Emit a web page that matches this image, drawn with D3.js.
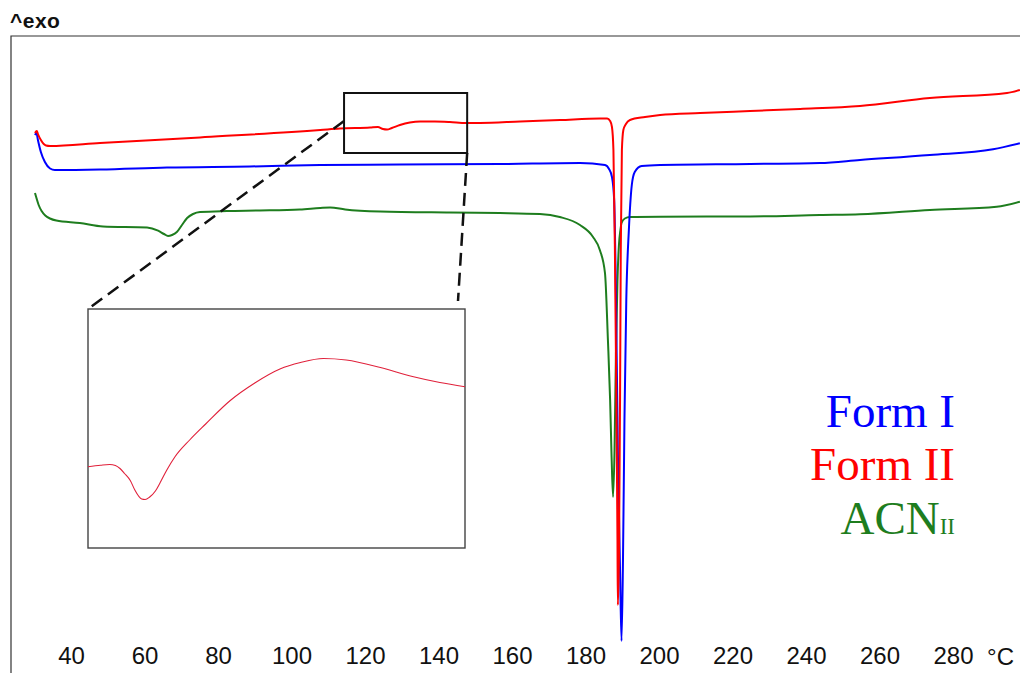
<!DOCTYPE html>
<html><head><meta charset="utf-8">
<script src="https://cdn.jsdelivr.net/npm/d3@7"></script>
<style>body{margin:0;background:#fff;}svg{display:block;}</style>
</head><body>
<svg id="c" width="1020" height="673"></svg>
<script>
// ---- data (temperature °C, heat-flow arbitrary units) ----
const xTicks = [40, 60, 80, 100, 120, 140, 160, 180, 200, 220, 240, 260, 280];
const xUnit = "°C";
const yLabel = "^exo";
const seriesNames = ["Form I", "Form II", "ACN"];
const seriesColors = ["#0000ff", "#ff0000", "#1e7d1e"];

const formI_T = [30.2,30.6,31.0,31.8,32.9,34.3,35.6,47.9,66.1,88.7,107.8,129.5,156.7,178.5,185.3,186.4,187.2,187.8,188.3,188.8,189.4,189.8,190.2,190.6,191.1,191.8,192.6,193.4,195.3,200.3,224.8,243.8,254.7,273.7,290.9,298.2];
const formI_V = [-9.9,-9.7,-10.4,-11.6,-12.6,-13.25,-13.4,-13.35,-13.15,-13.05,-12.9,-12.85,-12.8,-12.7,-12.9,-13.3,-14.1,-16.4,-26.4,-41.4,-53.4,-60.5,-52.4,-38.4,-26.4,-19.4,-14.9,-13.6,-13.0,-12.9,-12.8,-12.7,-12.4,-11.9,-11.33,-10.73];

const formII_T = [30.2,30.7,31.0,31.8,33.2,34.3,47.9,75.1,107.8,113.2,121.4,123.5,124.9,126.0,127.3,129.5,132.2,135.0,139.0,143.1,147.5,151.3,162.2,173.1,184.0,185.9,186.7,187.2,187.6,188.0,188.4,188.7,188.8,189.1,189.4,189.6,189.9,190.3,191.0,192.1,196.2,200.3,211.2,224.8,238.4,254.7,273.7,294.7,298.2];
const formII_V = [-9.7,-9.5,-9.8,-10.4,-10.95,-11.0,-10.7,-10.14,-9.4,-9.25,-9.15,-9.1,-9.3,-9.35,-9.2,-8.9,-8.65,-8.55,-8.55,-8.6,-8.7,-8.7,-8.55,-8.4,-8.25,-8.25,-8.5,-9.1,-11.4,-21.4,-36.4,-50.4,-56.9,-52.4,-36.4,-21.4,-11.4,-9.4,-8.8,-8.4,-8.1,-7.9,-7.7,-7.5,-7.3,-7.0,-6.2,-5.7,-5.4];

const acn_T = [30.2,30.6,31.2,32.0,33.0,34.3,36.0,42.4,48.7,60.7,63.7,65.3,66.4,67.5,68.8,70.2,71.6,73.2,75.1,82.4,91.4,102.3,107.8,110.5,114.6,124.1,143.1,156.7,167.6,173.0,178.5,182.0,183.9,185.3,186.1,186.7,187.1,187.5,187.9,188.3,188.7,189.1,189.5,189.8,190.7,192.1,200.3,224.8,243.8,254.7,273.7,291.9,298.2];
const acn_V = [-15.7,-16.2,-16.9,-17.5,-17.95,-18.25,-18.45,-18.7,-19.05,-19.15,-19.47,-19.8,-20.0,-19.9,-19.6,-18.9,-18.2,-17.8,-17.6,-17.5,-17.45,-17.35,-17.2,-17.15,-17.35,-17.55,-17.65,-17.7,-17.8,-18.1,-18.9,-20.07,-21.4,-23.7,-30.4,-36.4,-42.1,-46.1,-41.4,-31.4,-24.4,-20.9,-19.4,-18.7,-18.25,-18.1,-18.07,-18.05,-17.9,-17.83,-17.4,-17.07,-16.57];

// inset: magnified Form II trace, 115-148 °C
const inset_T = [115.0,116.1,116.9,117.4,117.8,118.2,118.7,119.1,119.7,120.0,120.4,120.9,121.3,121.9,122.6,123.9,125.3,127.4,129.6,131.8,133.6,135.6,137.6,140.6,143.4,145.8,148.0];
const inset_V = [-15.77,-15.62,-15.55,-15.65,-15.95,-16.45,-17.15,-18.1,-19.0,-19.05,-18.8,-18.2,-17.4,-16.1,-14.8,-13.1,-11.5,-9.2,-7.4,-6.0,-5.35,-4.95,-5.1,-5.85,-6.75,-7.35,-7.77];
const insetDomain = [115, 148];
const zoomBoxDomainT = [114.3, 147.8];
const zoomBoxDomainV = [-5.7, -11.7];

// ---- drawing ----
const svg = d3.select("#c");
const W = 1020, H = 673;
const frame = {left: 11, top: 36};

const x = d3.scaleLinear().domain([40, 280]).range([71, 953]);
const y = d3.scaleLinear().domain([0, -64]).range([36, 676]);

svg.append("defs").append("clipPath").attr("id", "plotclip")
  .append("rect").attr("x", frame.left).attr("y", frame.top).attr("width", W - frame.left).attr("height", H - frame.top);

// frame
svg.append("path")
  .attr("d", `M${frame.left},${H} L${frame.left},${frame.top} L${W},${frame.top}`)
  .attr("fill", "none").attr("stroke", "#333").attr("stroke-width", 1.2);

// ^exo label
svg.append("text").attr("x", 10).attr("y", 28)
  .attr("font-family", "Liberation Sans, Arial, sans-serif").attr("font-weight", "bold")
  .attr("font-size", 21).attr("letter-spacing", 0.5).attr("fill", "#111").text(yLabel);

// axis labels
const axis = d3.axisBottom(x).tickValues(xTicks).tickSize(0).tickPadding(0).tickFormat(d3.format("d"));
const ag = svg.append("g").attr("transform", "translate(0,647)").call(axis);
ag.select(".domain").remove();
ag.selectAll("text").attr("font-family", "Liberation Sans, Arial, sans-serif")
  .attr("font-size", 24).attr("fill", "#111").attr("dy", "0.72em");
svg.append("text").attr("x", 1014).attr("y", 664.5).attr("text-anchor", "end")
  .attr("font-family", "Liberation Sans, Arial, sans-serif").attr("font-size", 24).attr("fill", "#111").text(xUnit);

// curves
const line = d3.line().x(d => x(d[0])).y(d => y(d[1])).curve(d3.curveMonotoneX);
const plot = svg.append("g").attr("clip-path", "url(#plotclip)");
const series = [
  {T: acn_T, V: acn_V, c: seriesColors[2]},
  {T: formI_T, V: formI_V, c: seriesColors[0]},
  {T: formII_T, V: formII_V, c: seriesColors[1]},
];
series.forEach(s => {
  plot.append("path").datum(s.T.map((t, i) => [t, s.V[i]]))
    .attr("d", line).attr("fill", "none").attr("stroke", s.c)
    .attr("stroke-width", 2).attr("stroke-linejoin", "round");
});

// zoom box
const bx0 = x(zoomBoxDomainT[0]), bx1 = x(zoomBoxDomainT[1]);
const by0 = y(zoomBoxDomainV[0]), by1 = y(zoomBoxDomainV[1]);
svg.append("rect").attr("x", bx0).attr("y", by0).attr("width", bx1 - bx0).attr("height", by1 - by0)
  .attr("fill", "none").attr("stroke", "#111").attr("stroke-width", 2);

// inset
const inset = {x0: 88, x1: 465, y0: 309, y1: 548};
const ix = d3.scaleLinear().domain(insetDomain).range([inset.x0, inset.x1]);
const iy = d3.scaleLinear().domain([0, -24]).range([inset.y0, inset.y0 + 240]);

// dashed connectors
svg.append("line").attr("x1", bx0).attr("y1", y(-8.5)).attr("x2", inset.x0).attr("y2", inset.y0)
  .attr("stroke", "#111").attr("stroke-width", 2.5).attr("stroke-dasharray", "13,7");
svg.append("line").attr("x1", bx1).attr("y1", by1).attr("x2", inset.x1 - 7).attr("y2", inset.y0 - 8)
  .attr("stroke", "#111").attr("stroke-width", 2.5).attr("stroke-dasharray", "13,7");

svg.append("rect").attr("x", inset.x0).attr("y", inset.y0).attr("width", inset.x1 - inset.x0).attr("height", inset.y1 - inset.y0)
  .attr("fill", "#fff").attr("stroke", "#444").attr("stroke-width", 1.4);
const iline = d3.line().x(d => ix(d[0])).y(d => iy(d[1])).curve(d3.curveMonotoneX);
svg.append("path").datum(inset_T.map((t, i) => [t, inset_V[i]]))
  .attr("d", iline).attr("fill", "none").attr("stroke", "#e0203a").attr("stroke-width", 1.1);

// legend
const lg = svg.append("g").attr("font-family", "Liberation Serif, Times New Roman, serif").attr("text-anchor", "end");
const legY = [427, 480, 534];
seriesNames.forEach((n, i) => {
  const t = lg.append("text").attr("x", 955).attr("y", legY[i]).attr("font-size", 47)
    .attr("fill", seriesColors[i]);
  t.append("tspan").text(n);
  if (i === 2) t.append("tspan").attr("font-size", 23).text("II");
});
</script>
</body></html>
